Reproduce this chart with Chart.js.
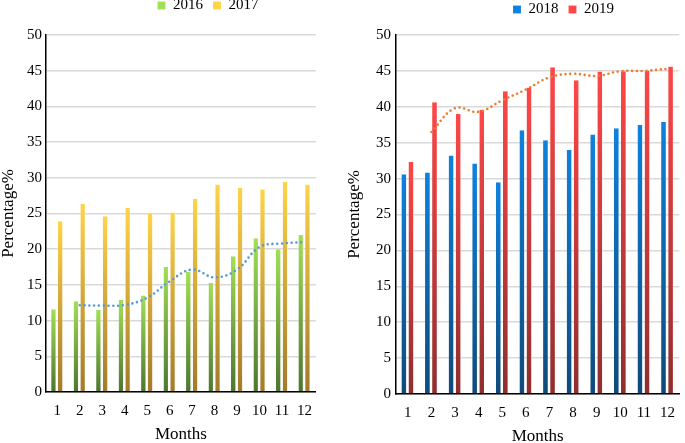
<!DOCTYPE html>
<html>
<head>
<meta charset="utf-8">
<script src="https://cdn.jsdelivr.net/npm/chart.js@4/dist/chart.umd.min.js"></script>
<style>
    html, body { margin: 0; padding: 0; background: #fff; overflow: hidden; }
    body { width: 685px; height: 443px; position: relative; }
    .panel { position: absolute; top: 0; height: 443px; }
    #leftPanel { left: 0; width: 322px; }
    #rightPanel { left: 340px; width: 345px; }
</style>
</head>
<body>
<div class="panel" id="leftPanel"><canvas id="chartLeft"></canvas></div>
<div class="panel" id="rightPanel"><canvas id="chartRight"></canvas></div>
<script>
// values
const months = ['1', '2', '3', '4', '5', '6', '7', '8', '9', '10', '11', '12'];
const y2016 = [11.6, 12.7, 11.5, 12.9, 13.5, 17.5, 16.8, 15.3, 19.0, 21.55, 20.0, 22.0];
const y2017 = [23.9, 26.35, 24.6, 25.8, 25.0, 25.15, 27.05, 29.05, 28.6, 28.35, 29.4, 29.05];
const trend2016 = [null, 12.15, 12.1, 12.2, 13.2, 15.5, 17.15, 16.05, 17.15, 20.3, 20.8, 21.0];
const y2018 = [30.6, 30.85, 33.2, 32.1, 29.5, 36.75, 35.35, 34.0, 36.15, 37.0, 37.45, 37.9];
const y2019 = [32.3, 40.65, 39.0, 39.6, 42.15, 42.7, 45.5, 43.7, 44.9, 44.95, 45.0, 45.6];
const trend2019 = [null, 36.5, 39.8, 39.3, 40.9, 42.4, 44.1, 44.6, 44.3, 44.95, 45.0, 45.3];
const yTicks = { min: 0, max: 50, step: 5 };

Chart.defaults.font.family = "'Liberation Serif', 'Times New Roman', serif";
Chart.defaults.color = '#000';

// each bar gets its own top-to-bottom gradient
function barGradient(topColor, bottomColor, legendColor) {
    return (ctx) => {
        if (ctx.type !== 'data') return legendColor;
        const chart = ctx.chart;
        const y = chart.scales.y;
        if (!y || !chart.chartArea || ctx.parsed == null) return legendColor;
        const top = y.getPixelForValue(ctx.parsed.y);
        const base = y.getPixelForValue(0);
        if (!isFinite(top) || !isFinite(base) || base - top < 1) return legendColor;
        const g = chart.ctx.createLinearGradient(0, top, 0, base);
        g.addColorStop(0, topColor);
        g.addColorStop(1, bottomColor);
        return g;
    };
}

// move the legend to where the original places it
const legendShift = {
    id: 'legendShift',
    afterLayout(chart, args, opts) {
        const lg = chart.legend;
        if (!lg) return;
        lg.left += opts.dx; lg.right += opts.dx;
        lg.top += opts.dy; lg.bottom += opts.dy;
    }
};

function makeChart(canvasId, cfg) {
    const barCommon = {
        type: 'bar',
        order: 2,
        barPercentage: 0.8,
        categoryPercentage: 0.6,
        borderWidth: { right: 1, left: 0, top: 0, bottom: 0 },
        borderSkipped: false
    };
    return new Chart(document.getElementById(canvasId), {
        type: 'bar',
        data: {
            labels: months,
            datasets: [
                Object.assign({}, barCommon, {
                    label: cfg.names[0],
                    data: cfg.series[0],
                    backgroundColor: barGradient(cfg.colors[0][0], cfg.colors[0][1], cfg.colors[0][2]),
                    borderColor: 'rgba(255,255,255,0.55)'
                }),
                Object.assign({}, barCommon, {
                    label: cfg.names[1],
                    data: cfg.series[1],
                    backgroundColor: barGradient(cfg.colors[1][0], cfg.colors[1][1], cfg.colors[1][2]),
                    borderColor: 'rgba(255,255,255,0.55)'
                }),
                {
                    type: 'line',
                    label: 'trend',
                    order: 0,
                    data: cfg.trend,
                    borderColor: cfg.trendColor,
                    borderWidth: 2.6,
                    borderDash: [0, 4.8],
                    borderCapStyle: 'round',
                    pointRadius: 0,
                    tension: 0.4,
                    fill: false
                }
            ]
        },
        options: {
            responsive: true,
            maintainAspectRatio: false,
            animation: false,
            layout: { padding: 0 },
            plugins: {
                tooltip: { enabled: false },
                legend: {
                    position: 'top',
                    labels: {
                        boxWidth: 8,
                        boxHeight: 8,
                        padding: 10,
                        font: { size: 15 },
                        filter: (item) => item.datasetIndex < 2
                    }
                },
                legendShift: cfg.legendShift
            },
            scales: {
                x: {
                    grid: { display: false, drawTicks: false },
                    border: { display: true, color: '#000', width: 1.5 },
                    ticks: { font: { size: 15 }, padding: 10, maxRotation: 0 },
                    title: {
                        display: true,
                        text: 'Months',
                        font: { size: 17, lineHeight: 1 },
                        padding: { top: 0, bottom: cfg.xTitlePad }
                    },
                    afterFit: (scale) => { scale.height = cfg.xHeight; }
                },
                y: {
                    min: yTicks.min,
                    max: yTicks.max,
                    grid: { color: '#d9d9d9', lineWidth: 1.5, drawTicks: false },
                    border: { display: true, color: '#000', width: 1.5 },
                    ticks: { stepSize: yTicks.step, font: { size: 15 }, padding: cfg.yTickPad },
                    title: {
                        display: true,
                        text: 'Percentage%',
                        font: { size: 17, lineHeight: 1 },
                        padding: { top: cfg.yTitlePad, bottom: 0 }
                    },
                    afterFit: (scale) => { scale.width = cfg.yWidth; }
                }
            }
        },
        plugins: [legendShift]
    });
}

makeChart('chartLeft', {
    names: ['2016', '2017'],
    series: [y2016, y2017],
    trend: trend2016,
    trendColor: '#5b9bd5',
    colors: [['#a2df55', '#4c7630', '#7fb843'], ['#ffd348', '#a27a2a', '#e0b23a']],
    legendShift: { dx: 47, dy: -12 },
    xHeight: 51,
    xTitlePad: 0,
    yWidth: 46,
    yTickPad: 4,
    yTitlePad: 0.5
});

makeChart('chartRight', {
    names: ['2018', '2019'],
    series: [y2018, y2019],
    trend: trend2019,
    trendColor: '#ed7d31',
    colors: [['#0d82de', '#0f4a7a', '#0b6ab8'], ['#ff4747', '#8f2e2e', '#e03c3c']],
    legendShift: { dx: 51, dy: -8 },
    xHeight: 49,
    xTitlePad: -2.5,
    yWidth: 56,
    yTickPad: 5,
    yTitlePad: 6.5
});
</script>
</body>
</html>
